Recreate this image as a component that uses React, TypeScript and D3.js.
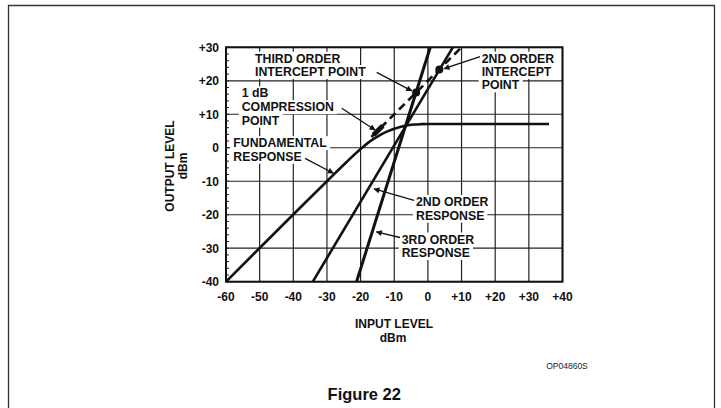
import React, { useLayoutEffect, useRef, useState } from 'react';
import * as d3 from 'd3';

const W = 721;
const H = 408;

// Axis ticks
const inputTicks = [-60, -50, -40, -30, -20, -10, 0, 10, 20, 30, 40];
const inputTickLabels = ['-60', '-50', '-40', '-30', '-20', '-10', '0', '+10', '+20', '+30', '+40'];
const outputTicks = [30, 20, 10, 0, -10, -20, -30, -40];
const outputTickLabels = ['+30', '+20', '+10', '0', '-10', '-20', '-30', '-40'];
const outputMinorTicks = d3.range(-40, 31, 2);

// Fundamental response (input dBm -> output dBm)
const fundamentalIn = [-60, -30, -24, -20, -18, -16, -14, -12, -10, -8, -6, -4, -2, 0, 36];
const fundamentalOut = [-40, -10, -4.1, -0.4, 1.3, 2.7, 3.9, 4.9, 5.7, 6.3, 6.7, 6.95, 7.05, 7.1, 7.1];

// 2nd order response
const secondOrderIn = [-34.2, 7.4];
const secondOrderOut = [-40, 30];

// 3rd order response
const thirdOrderIn = [-21.2, 0.7];
const thirdOrderOut = [-40, 30];

// Extrapolated fundamental (dashed)
const extrapIn = [-16.8, 10];
const extrapOut = [3.2, 30];

// Intercept points (3rd, 2nd)
const interceptIn = [-3.5, 3.4];
const interceptOut = [16.5, 23.4];

// 1 dB compression mark
const compressionIn = [-16.2, -13.4];
const compressionOut = [3.8, 6.6];

// Annotation arrows, in data units: [fromIn, fromOut, toIn, toOut]
const arrows = [
  [-15.2, 22.5, -4.8, 17.0],
  [15.5, 27.2, 4.8, 23.6],
  [-25.6, 11.8, -15.7, 5.3],
  [-36.5, -3.15, -28.1, -7.6],
  [-4.1, -15.75, -16.0, -12.3],
  [-8.3, -26.8, -15.3, -25.1],
];

// Annotation text lines
const annotationLines = [
  'THIRD ORDER', 'INTERCEPT POINT',
  '2ND ORDER', 'INTERCEPT', 'POINT',
  '1 dB', 'COMPRESSION', 'POINT',
  'FUNDAMENTAL', 'RESPONSE',
  '2ND ORDER', 'RESPONSE',
  '3RD ORDER', 'RESPONSE',
];
const annotationPos = [
  [255, 62.7], [255, 76],
  [481.7, 62.7], [481.7, 76], [481.7, 89.3],
  [241.7, 97.3], [241.7, 111.2], [241.7, 124.7],
  [233.3, 147.2], [233.3, 160.7],
  [416, 206], [416, 219.6],
  [401.7, 243.5], [401.7, 257],
];

const FONT = '"Liberation Sans", Arial, Helvetica, sans-serif';

function BoxedText({ x, y, text, size }: { x: number; y: number; text: string; size: number }) {
  const ref = useRef<SVGTextElement>(null);
  const [bb, setBb] = useState<{ x: number; y: number; w: number; h: number } | null>(null);
  useLayoutEffect(() => {
    if (ref.current) {
      const b = ref.current.getBBox();
      setBb({ x: b.x, y: b.y, w: b.width, h: b.height });
    }
  }, [text, x, y]);
  return (
    <g>
      {bb && <rect x={bb.x - 3} y={bb.y} width={bb.w + 6} height={bb.h} fill="#fff" />}
      <text ref={ref} x={x} y={y} fontFamily={FONT} fontWeight="bold" fontSize={size} fill="#111">
        {text}
      </text>
    </g>
  );
}

export default function App() {
  const x = d3.scaleLinear().domain([-60, 40]).range([226, 562.5]);
  const y = d3.scaleLinear().domain([-40, 30]).range([281.7, 47.3]);

  const fundLine = d3
    .line<number>()
    .x((_, i) => x(fundamentalIn[i]))
    .y((d) => y(d))
    .curve(d3.curveMonotoneX);
  const straight = (xs: number[], ys: number[]) =>
    d3.line<number>().x((_, i) => x(xs[i])).y((d) => y(d))(ys) || '';

  const x0 = x(-60), x1 = x(40), y0 = y(-40), y1 = y(30);

  return (
    <svg
      width={W}
      height={H}
      viewBox={`0 0 ${W} ${H}`}
      style={{ position: 'absolute', left: 0, top: 0, background: '#fff' }}
    >
      <defs>
        <marker id="ah" viewBox="0 0 10 10" refX="9" refY="5" markerWidth="7" markerHeight="6" orient="auto" markerUnits="userSpaceOnUse">
          <path d="M0,0 L10,5 L0,10 z" fill="#111" />
        </marker>
      </defs>
      <rect x={0} y={0} width={W} height={H} fill="#fff" />
      {/* outer frame */}
      <path d={`M8.5,${H} L8.5,5.5 L714.5,5.5 L714.5,${H}`} fill="none" stroke="#333" strokeWidth={1.3} />

      {/* grid */}
      {inputTicks.map((t) => (
        <line key={'gx' + t} x1={x(t)} x2={x(t)} y1={y1} y2={y0} stroke="#222" strokeWidth={1.2} />
      ))}
      {outputTicks.map((t) => (
        <line key={'gy' + t} x1={x0} x2={x1} y1={y(t)} y2={y(t)} stroke="#222" strokeWidth={1.2} />
      ))}
      {outputMinorTicks.map((t) => (
        <line key={'my' + t} x1={x0} x2={x0 + 3} y1={y(t)} y2={y(t)} stroke="#222" strokeWidth={1} />
      ))}
      <rect x={x0} y={y1} width={x1 - x0} height={y0 - y1} fill="none" stroke="#111" strokeWidth={2} />

      {/* tick labels */}
      {inputTicks.map((t, i) => (
        <text key={'tx' + t} x={x(t)} y={y0 + 19.5} textAnchor="middle" fontFamily={FONT} fontWeight="bold" fontSize={12} fill="#111">
          {inputTickLabels[i]}
        </text>
      ))}
      {outputTicks.map((t, i) => (
        <text key={'ty' + t} x={219} y={y(t) + 4.3} textAnchor="end" fontFamily={FONT} fontWeight="bold" fontSize={12} fill="#111">
          {outputTickLabels[i]}
        </text>
      ))}

      {/* axis titles */}
      <text x={394} y={328.3} textAnchor="middle" fontFamily={FONT} fontWeight="bold" fontSize={12} fill="#111">INPUT LEVEL</text>
      <text x={393} y={341.7} textAnchor="middle" fontFamily={FONT} fontWeight="bold" fontSize={12} fill="#111">dBm</text>
      <text transform="translate(173.5,166) rotate(-90)" textAnchor="middle" fontFamily={FONT} fontWeight="bold" fontSize={12} fill="#111">OUTPUT LEVEL</text>
      <text transform="translate(186.8,166) rotate(-90)" textAnchor="middle" fontFamily={FONT} fontWeight="bold" fontSize={12} fill="#111">dBm</text>

      {/* annotations */}
      {annotationLines.map((s, i) => (
        <BoxedText key={'an' + i} x={annotationPos[i][0]} y={annotationPos[i][1]} text={s} size={12.3} />
      ))}

      {/* curves */}
      <path d={straight(extrapIn, extrapOut)} fill="none" stroke="#111" strokeWidth={2.6} strokeDasharray="8 5" />
      <path d={fundLine(fundamentalOut) || ''} fill="none" stroke="#111" strokeWidth={2.6} />
      <path d={straight(secondOrderIn, secondOrderOut)} fill="none" stroke="#111" strokeWidth={2.6} />
      <path d={straight(thirdOrderIn, thirdOrderOut)} fill="none" stroke="#111" strokeWidth={3} />

      {/* marks */}
      <path d={straight(compressionIn, compressionOut)} fill="none" stroke="#111" strokeWidth={5} />
      {interceptIn.map((v, i) => (
        <circle key={'ip' + i} cx={x(v)} cy={y(interceptOut[i])} r={4} fill="#111" />
      ))}

      {/* arrows */}
      {arrows.map((a, i) => (
        <line key={'ar' + i} x1={x(a[0])} y1={y(a[1])} x2={x(a[2])} y2={y(a[3])} stroke="#111" strokeWidth={1.3} markerEnd="url(#ah)" />
      ))}

      <text x={567} y={369} textAnchor="middle" fontFamily={FONT} fontSize={8.5} fill="#222">OP04860S</text>
      <text x={364.3} y={400} textAnchor="middle" fontFamily={FONT} fontWeight="bold" fontSize={16.5} fill="#111">Figure 22</text>
    </svg>
  );
}
